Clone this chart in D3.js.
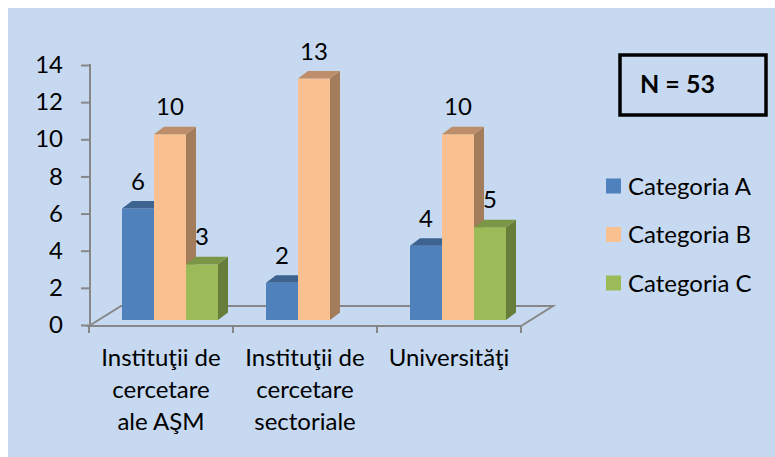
<!DOCTYPE html>
<html>
<head>
<meta charset="utf-8">
<script src="https://cdn.jsdelivr.net/npm/d3@7"></script>
<style>
  body { margin: 0; background: #fff; }
  text { font-family: Lato, "Open Sans", sans-serif; fill: #000; }
</style>
</head>
<body>
<svg width="775" height="457"></svg>
<script>
var categories = [
  ["Instituţii de", "cercetare", "ale AŞM"],
  ["Instituţii de", "cercetare", "sectoriale"],
  ["Universităţi"]
];
var seriesNames = ["Categoria A", "Categoria B", "Categoria C"];
var valuesA = [6, 2, 4];
var valuesB = [10, 13, 10];
var valuesC = [3, null, 5];
var yTicks = [0, 2, 4, 6, 8, 10, 12, 14];
var totalLabel = "N = 53";

var svg = d3.select("svg");

var colors = {
  "Categoria A": { front: "#4F81BD", side: "#3A5F8B", top: "#3D6390" },
  "Categoria B": { front: "#FAC090", side: "#A27C5B", top: "#BD8E69" },
  "Categoria C": { front: "#9BBB59", side: "#677D3A", top: "#7A9646" }
};

svg.append("rect")
    .attr("x", 8).attr("y", 8)
    .attr("width", 767).attr("height", 449)
    .attr("fill", "#C6D9F0");

// front plane scales
var x = d3.scaleBand()
    .domain(d3.range(categories.length))
    .range([89, 521]);
var y = d3.scaleLinear().domain([0, 14]).range([325, 65]);

// depth offsets
var floorDx = 32, floorDy = -20;
var barDx = 9, barDy = -5;
var depthX = 10, depthY = -7.5;

var inner = d3.scaleBand()
    .domain(seriesNames)
    .range([24, x.bandwidth() - 24]);

var grey = "#878787";

// floor outline
var x0 = x.range()[0], x1 = x.range()[1], yf = 326;
svg.append("path")
    .attr("d", "M" + x0 + "," + yf + "L" + (x0 + floorDx) + "," + (yf + floorDy) +
               "L" + (x1 + floorDx) + "," + (yf + floorDy) + "L" + x1 + "," + yf + "Z")
    .attr("fill", "none")
    .attr("stroke", grey)
    .attr("stroke-width", 2);

// category ticks under the front edge
var tickXs = x.domain().map(function(i) { return x(i); }).concat([x1]);
svg.selectAll(".xtick")
  .data(tickXs)
  .enter().append("line")
    .attr("class", "xtick")
    .attr("x1", function(d) { return d; }).attr("x2", function(d) { return d; })
    .attr("y1", yf).attr("y2", yf + 7)
    .attr("stroke", grey).attr("stroke-width", 2);

// y axis
var yAxis = svg.append("g")
    .attr("transform", "translate(90,0)")
    .call(d3.axisLeft(y).tickValues(yTicks).tickSize(9).tickSizeOuter(0).tickPadding(18));
yAxis.select(".domain").remove();
yAxis.selectAll(".tick line").attr("stroke", grey).attr("stroke-width", 2);
yAxis.selectAll(".tick text")
    .style("font-size", "24px")
    .attr("fill", "#000");
yAxis.append("line")
    .attr("x1", 0).attr("x2", 0)
    .attr("y1", y(14) - 1).attr("y2", yf + 1)
    .attr("stroke", grey).attr("stroke-width", 2);

// bars
var data = [];
categories.forEach(function(c, i) {
  [valuesA, valuesB, valuesC].forEach(function(vals, s) {
    if (vals[i] != null) data.push({ cat: i, series: seriesNames[s], value: vals[i] });
  });
});

var bar = svg.selectAll(".bar")
  .data(data)
  .enter().append("g")
    .attr("class", "bar");

function bx0(d) { return x(d.cat) + inner(d.series) + barDx; }
function bx1(d) { return bx0(d) + inner.bandwidth(); }
function btop(d) { return y(d.value) + barDy; }
function bbot(d) { return y(0) + barDy; }

bar.append("rect")
    .attr("x", bx0)
    .attr("y", btop)
    .attr("width", inner.bandwidth())
    .attr("height", function(d) { return bbot(d) - btop(d); })
    .attr("fill", function(d) { return colors[d.series].front; });

bar.append("path")
    .attr("d", function(d) {
      var a = bx1(d), t = btop(d), b = bbot(d);
      return "M" + a + "," + t + "L" + (a + depthX) + "," + (t + depthY) +
             "L" + (a + depthX) + "," + (b + depthY) + "L" + a + "," + b + "Z";
    })
    .attr("fill", function(d) { return colors[d.series].side; });

bar.append("path")
    .attr("d", function(d) {
      var l = bx0(d), r = bx1(d), t = btop(d);
      return "M" + l + "," + t + "L" + (l + depthX) + "," + (t + depthY) +
             "L" + (r + depthX) + "," + (t + depthY) + "L" + r + "," + t + "Z";
    })
    .attr("fill", function(d) { return colors[d.series].top; });

bar.append("text")
    .attr("x", function(d) { return (bx0(d) + bx1(d)) / 2; })
    .attr("y", function(d) { return btop(d) - 19; })
    .attr("text-anchor", "middle")
    .style("font-size", "24px")
    .text(function(d) { return d.value; });

// category labels
var catLabel = svg.selectAll(".cat")
  .data(categories)
  .enter().append("text")
    .attr("class", "cat")
    .attr("x", function(d, i) { return x(i) + x.bandwidth() / 2; })
    .attr("y", 366)
    .attr("text-anchor", "middle")
    .style("font-size", "24px");
catLabel.selectAll("tspan")
  .data(function(d) { return d; })
  .enter().append("tspan")
    .attr("x", function() { return d3.select(this.parentNode).attr("x"); })
    .attr("dy", function(d, i) { return i ? 32 : 0; })
    .text(function(d) { return d; });

// legend
var legend = svg.selectAll(".legend")
  .data(seriesNames)
  .enter().append("g")
    .attr("class", "legend")
    .attr("transform", function(d, i) { return "translate(606," + (186 + i * 48.5) + ")"; });
legend.append("rect")
    .attr("x", 0).attr("y", -7.5)
    .attr("width", 15).attr("height", 15)
    .attr("fill", function(d) { return colors[d].front; });
legend.append("text")
    .attr("x", 22).attr("y", 8.5)
    .style("font-size", "24px")
    .text(function(d) { return d; });

// N box
svg.append("rect")
    .attr("x", 620).attr("y", 55)
    .attr("width", 146).attr("height", 60)
    .attr("fill", "none")
    .attr("stroke", "#000")
    .attr("stroke-width", 3.5);
svg.append("text")
    .attr("x", 640).attr("y", 93)
    .style("font-size", "25px")
    .style("font-weight", "bold")
    .text(totalLabel);
</script>
</body>
</html>
